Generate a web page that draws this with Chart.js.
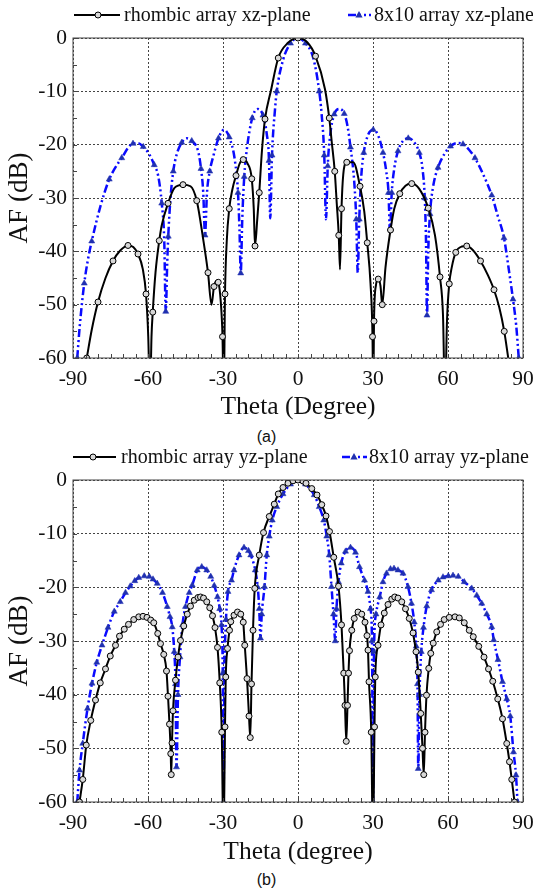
<!DOCTYPE html>
<html>
<head>
<meta charset="utf-8">
<script src="https://cdn.jsdelivr.net/npm/chart.js@4.4.0/dist/chart.umd.min.js"></script>
<style>
  body { margin: 0; background: #fff; width: 533px; height: 891px; position: relative; overflow: hidden; }
  .box { position: absolute; left: 0; width: 533px; }
  .cap { position: absolute; left: 0; width: 533px; text-align: center; font: 16px "Liberation Sans", Arial, sans-serif; color: #111; }
</style>
</head>
<body>
<div class="box" style="top:0;height:425px"><canvas id="chartA"></canvas></div>
<div class="cap" style="top:428px">(a)</div>
<div class="box" style="top:440px;height:430px"><canvas id="chartB"></canvas></div>
<div class="cap" style="top:871px">(b)</div>
<script>
// tick values
const thetaTicks = [-90, -60, -30, 0, 30, 60, 90];
const afTicks = [0, -10, -20, -30, -40, -50, -60];

// (a) xz-plane, [theta, AF dB]
const rhombicXZ = [
  [-84.5,-60],[-82.5,-54.7],[-80,-49.5],[-77,-45],[-74,-41.8],[-71.2,-39.9],[-68,-38.9],[-65.9,-39.2],
  [-64,-40.5],[-62.1,-43.3],[-60.8,-48],[-59.9,-56],[-59.2,-68],[-58.6,-56],[-58.1,-51.4],[-57,-44],
  [-55.5,-38],[-54.5,-35.1],[-52,-31],[-49.4,-28.1],[-46,-27.5],[-43,-27.8],[-40.5,-30.5],[-37.9,-37.8],
  [-36,-44],[-34.6,-50],[-33.6,-46.6],[-32.6,-45.5],[-31.9,-45.8],[-30.9,-49.4],[-30.2,-56],[-29.7,-68],
  [-29.2,-48],[-28.5,-38.1],[-27.5,-32],[-26.3,-28.5],[-24.8,-25.8],[-23.3,-23.5],[-21.9,-22.8],[-20.1,-23.6],
  [-18.5,-26.4],[-17.7,-32],[-17.2,-39],[-16.3,-34],[-15.5,-29],[-14.4,-21],[-13.2,-15.2],[-10.8,-9.8],
  [-7.9,-3.75],[-4,-0.9],[0,0],[3.7,-0.8],[7,-3.4],[10.8,-9.6],[12.5,-15],[13.5,-19.5],
  [14.7,-25],[15.5,-31],[16.3,-37],[16.8,-43.4],[17.4,-32],[18.1,-25.6],[19.5,-23.3],[22.1,-23.3],
  [24.8,-27.8],[26.5,-32.5],[27.7,-38.4],[29,-46],[29.8,-56],[30.1,-68],[30.4,-53.1],[31.2,-46.3],
  [32.1,-45.2],[33,-46.5],[33.7,-50],[35,-43],[37,-36],[38.5,-32],[40.7,-29.2],[43,-27.7],
  [45.5,-27.3],[48.5,-28.3],[52.1,-31.9],[54.8,-37],[56.8,-44.8],[58,-52],[58.8,-68],[59.6,-53],
  [60.5,-46.1],[61.5,-43],[63.1,-40.2],[65.5,-39.1],[67.5,-39],[70,-39.8],[73,-41.8],[76,-44.5],
  [78.4,-47.2],[80.5,-50.5],[82.5,-55],[84.1,-60]
];
const array8x10XZ = [
  [-88.3,-60],[-87.3,-54],[-85.5,-46],[-84,-41.5],[-82.5,-38.1],[-79,-31.5],[-75.5,-26.5],[-72,-23.5],
  [-70.5,-22.5],[-68,-20.6],[-66,-19.8],[-64,-19.7],[-61.9,-20.4],[-59.5,-21.8],[-57.5,-23.8],[-55.9,-25.9],
  [-54.5,-31],[-53.5,-38],[-52.9,-51.3],[-52.3,-42],[-51.9,-37.2],[-51,-30],[-49.9,-25],[-48.5,-21.8],
  [-46.5,-19.6],[-44.5,-18.8],[-42.5,-19.3],[-39.9,-21.3],[-38.8,-24.5],[-37.9,-29],[-37.2,-37],[-36.4,-29],
  [-35.3,-25],[-33.9,-22.2],[-31.8,-18.8],[-29.6,-17.2],[-27.5,-18.6],[-25.2,-23.1],[-24,-29],[-23.4,-36],
  [-22.9,-44.1],[-22.3,-34],[-21.5,-26],[-20.5,-21],[-18.3,-15],[-16.1,-13.3],[-14,-14.5],[-12.5,-18],
  [-11.6,-23],[-11.1,-33.8],[-10.4,-22],[-9.2,-13.4],[-8.5,-10],[-5.9,-4],[-3,-1],[0,0],
  [3,-1],[6.1,-3.75],[8.5,-10],[9.4,-14],[10.5,-22],[11.2,-34],[11.9,-24],[12.8,-18.5],
  [14.5,-14.3],[16.8,-13.3],[18.5,-14.2],[19.8,-16.5],[21,-20.5],[22.5,-27],[23.3,-34],[23.9,-44],
  [24.5,-34],[25.3,-26],[26.3,-21.5],[28,-18.2],[30.1,-17.2],[32,-18.2],[34,-21.5],[35.3,-25],
  [36.2,-29],[36.8,-36.5],[37.5,-29],[38.5,-24.5],[40,-21.2],[42,-19.3],[44.1,-18.8],[46,-19.3],
  [48.5,-21.5],[49.8,-24.5],[50.7,-30],[51.2,-38],[51.6,-52],[52.1,-40],[52.8,-33],[54,-28],
  [56,-24.3],[58.5,-21.8],[61,-20.3],[63.5,-19.7],[66,-19.9],[68.5,-21],[70.8,-22.5],[74,-25.5],
  [77.5,-29.5],[80,-33.5],[82.4,-37.5],[84.5,-44],[86,-49],[87.3,-54],[88.3,-60]
];

// (b) yz-plane
const rhombicYZ = [
  [-87.4,-60],[-86.1,-55.8],[-84.7,-49.4],[-82.9,-44.8],[-81,-41],[-79.1,-37.8],[-77,-35.2],[-75.1,-32.8],
  [-73,-30.8],[-71.4,-29.1],[-69.5,-27.8],[-67.8,-26.9],[-65.7,-26],[-63.7,-25.5],[-62,-25.4],[-60.4,-25.6],
  [-58.9,-26.1],[-57.7,-26.6],[-56.1,-28.6],[-55,-30.5],[-53.7,-32.5],[-52.6,-35.6],[-52,-40.3],[-51.4,-45.5],
  [-50.9,-51],[-50.7,-54.9],[-50.4,-49],[-50,-43],[-49,-37.3],[-48,-33],[-47,-29.9],[-45.7,-27.2],
  [-44.3,-25],[-43,-23.5],[-41.5,-22.4],[-40,-21.9],[-39,-21.8],[-37.8,-22],[-36.5,-22.7],[-35.3,-23.8],
  [-34.2,-25.3],[-33.2,-27.5],[-32.2,-31.2],[-31.3,-37.8],[-30.5,-47],[-29.8,-68],[-29.2,-46],[-28.9,-36.7],
  [-28.2,-31.4],[-27.4,-28],[-26.9,-26.4],[-25.6,-25.2],[-24.2,-24.6],[-22.9,-25],[-21.9,-26.5],[-21.3,-30.8],
  [-20.4,-37],[-19.6,-44],[-19.1,-48],[-18.6,-38],[-18,-28],[-17.3,-20.2],[-15.5,-14],[-13.8,-9.8],
  [-11.5,-6.8],[-9.5,-4.5],[-7.9,-2.6],[-6,-1.4],[-4,-0.6],[-2,-0.15],[0,0],[2,-0.2],
  [3.2,-0.6],[5.5,-1.6],[7.6,-2.8],[9.5,-4.6],[11.2,-6.7],[12.6,-9.6],[14.3,-14.4],[16.2,-19.8],
  [17.4,-27],[18.3,-36],[18.8,-42],[19.3,-48.7],[19.8,-42],[20.2,-36],[20.6,-31.8],[21.5,-28],
  [22.5,-25.8],[24,-24.6],[25.5,-25],[26.8,-26.5],[27.6,-29],[28,-31.7],[28.4,-37.6],[29.3,-47],
  [30,-68],[30.6,-46],[30.9,-36.7],[32,-30.8],[33.2,-27],[34.5,-24.8],[36,-23.2],[37.5,-22.2],
  [38.7,-21.8],[40,-22],[41.5,-22.7],[43,-24],[44.5,-25.8],[46,-28.5],[47.2,-32],[48.1,-35.8],
  [49.1,-43.5],[49.8,-50],[50.3,-54.9],[50.8,-47],[51.4,-40.1],[52.3,-35.1],[53.1,-32.3],[54.1,-30.4],
  [55.5,-28.3],[57,-26.9],[58.5,-26],[60.5,-25.6],[62.8,-25.5],[64.5,-25.7],[66.5,-26.6],[68.5,-28],
  [70.1,-29.2],[72.3,-31],[74.4,-33],[76.2,-35.2],[77.9,-37.5],[79.9,-40.8],[81.8,-44.5],[83.5,-49.1],
  [84.6,-52.5],[85.5,-55.8],[86.6,-60]
];
const array8x10YZ = [
  [-88.3,-60],[-87.4,-54.1],[-86.1,-49.1],[-84.2,-42.6],[-82.4,-37.9],[-80.5,-34],[-78.4,-30.8],[-76,-27.5],
  [-73.5,-24.5],[-71.1,-22.7],[-69,-21],[-67.1,-19.8],[-65.3,-18.8],[-63.7,-18.2],[-61.5,-17.9],[-59.5,-18],
  [-58,-18.5],[-56.3,-19.3],[-54.2,-21],[-52.3,-23.6],[-51.2,-25.5],[-50.3,-27.4],[-49.5,-32],[-49,-38],
  [-48.6,-53.5],[-48,-40],[-47.2,-33],[-46.2,-27],[-45,-23.6],[-43.5,-21],[-42.3,-19.6],[-40.3,-16.8],
  [-38.5,-16.2],[-36.5,-16.8],[-34.9,-18],[-33.5,-19.7],[-32.2,-21.8],[-31.3,-24],[-30.6,-27],[-30.1,-36],
  [-29.8,-60],[-29.4,-36],[-28.8,-26],[-28,-20.8],[-26.6,-18.7],[-25.6,-16.8],[-23.6,-14],[-21.6,-12.6],
  [-19.8,-13.2],[-18.9,-14],[-17.1,-16.8],[-16.1,-20],[-15.5,-24],[-15,-29.5],[-14.5,-25],[-13.4,-19.9],
  [-12.5,-14],[-11.5,-10.5],[-10.3,-7.5],[-8.5,-5],[-6,-2.6],[-3,-0.8],[0,0],[3,-0.8],
  [6.5,-2.8],[8.5,-5],[10.3,-7.5],[11.5,-10.5],[12.5,-14],[13.4,-19.9],[14.2,-25],[14.9,-30],
  [15.4,-24],[16.2,-19],[17.3,-15.5],[19,-13.3],[21,-12.6],[23,-13.5],[24.6,-16.2],[26.6,-18.7],
  [28,-20.8],[29,-24],[29.6,-30],[30,-60],[30.4,-32],[31.2,-25],[32.7,-21.8],[34,-19],
  [35.4,-17.4],[37,-16.6],[38.4,-16.5],[40,-16.8],[42,-17.4],[44,-19.9],[45.4,-23],[46.5,-26.5],
  [47.3,-31],[47.8,-38],[48.1,-53.8],[48.6,-40],[49.3,-32],[50.2,-27.5],[51.5,-23.5],[53.4,-20.5],
  [56.1,-18.7],[58,-18.1],[60.1,-17.9],[62,-17.8],[64.1,-18],[66.5,-19],[69.5,-20.2],[71.5,-21.5],
  [73.5,-23],[75.5,-25],[77.5,-27.4],[78.3,-29.8],[80,-33.5],[81.8,-37.6],[83.5,-40.8],[84.9,-44],
  [86.2,-50.7],[87.2,-55],[87.8,-60]
];

const SERIF = '"Liberation Serif", "Times New Roman", serif';
const BLUE = '#0a0aff';
const BLUE_DASH = [8, 3, 2, 3, 2, 3];

function toXY(pairs) {
  return pairs.map(p => ({ x: p[0], y: p[1] }));
}

function drawMarker(ctx, kind, x, y) {
  ctx.save();
  ctx.setLineDash([]);
  if (kind === 'circle') {
    ctx.beginPath();
    ctx.arc(x, y, 3, 0, Math.PI * 2);
    ctx.fillStyle = '#d8d8d8';
    ctx.fill();
    ctx.lineWidth = 1;
    ctx.strokeStyle = '#000';
    ctx.stroke();
  } else {
    ctx.beginPath();
    ctx.moveTo(x, y - 4);
    ctx.lineTo(x + 3.6, y + 2.6);
    ctx.lineTo(x - 3.6, y + 2.6);
    ctx.closePath();
    ctx.fillStyle = '#2030b0';
    ctx.fill();
  }
  ctx.restore();
}

// legend drawn as line sample + marker + text, like the origin plot
function sampleLegend(items, y) {
  return {
    id: 'sampleLegend',
    afterDraw(chart) {
      const ctx = chart.ctx;
      ctx.save();
      ctx.font = '20px ' + SERIF;
      ctx.textBaseline = 'middle';
      ctx.fillStyle = '#111';
      items.forEach(it => {
        ctx.beginPath();
        ctx.lineWidth = it.kind === 'circle' ? 2 : 2.5;
        ctx.strokeStyle = it.kind === 'circle' ? '#000' : BLUE;
        ctx.setLineDash(it.kind === 'circle' ? [] : BLUE_DASH);
        ctx.moveTo(it.x0, y);
        ctx.lineTo(it.x1, y);
        ctx.stroke();
        drawMarker(ctx, it.kind, it.m, y);
        ctx.fillText(it.text, it.tx, y + 1);
      });
      ctx.restore();
    }
  };
}

// box round the plot and small inward ticks every 5
const framePlugin = {
  id: 'frame',
  afterDraw(chart) {
    const { ctx, chartArea: a, scales: { x, y } } = chart;
    ctx.save();
    ctx.strokeStyle = '#444';
    ctx.lineWidth = 1;
    ctx.setLineDash([]);
    ctx.strokeRect(a.left, a.top, a.right - a.left, a.bottom - a.top);
    ctx.beginPath();
    for (let t = -90; t <= 90; t += 5) {
      const px = Math.round(x.getPixelForValue(t)) + 0.5;
      ctx.moveTo(px, a.bottom);
      ctx.lineTo(px, a.bottom - 4);
    }
    for (let v = -60; v <= 0; v += 5) {
      const py = Math.round(y.getPixelForValue(v)) + 0.5;
      ctx.moveTo(a.left, py);
      ctx.lineTo(a.left + 4, py);
    }
    ctx.stroke();
    ctx.restore();
  }
};

function makeChart(id, black, blue, names, xTitle, legendItems, legendY, padTop, axisH, steps) {
  return new Chart(document.getElementById(id), {
    type: 'line',
    data: {
      datasets: [
        {
          label: names[0],
          data: toXY(black),
          borderColor: '#000',
          borderWidth: 2,
          cubicInterpolationMode: 'monotone',
          pointStyle: 'circle',
          pointRadius: c => (c.dataIndex % steps[0] === 0 ? 3 : 0),
          pointBackgroundColor: '#d8d8d8',
          pointBorderColor: '#000',
          pointBorderWidth: 1
        },
        {
          label: names[1],
          data: toXY(blue),
          borderColor: BLUE,
          borderWidth: 2.5,
          borderDash: BLUE_DASH,
          cubicInterpolationMode: 'monotone',
          pointStyle: 'triangle',
          pointRadius: c => (c.dataIndex % steps[1] === 0 ? 3.5 : 0),
          pointBackgroundColor: '#2030b0',
          pointBorderColor: '#2030b0',
          pointBorderWidth: 0.5
        }
      ]
    },
    options: {
      responsive: true,
      maintainAspectRatio: false,
      animation: false,
      devicePixelRatio: 1,
      layout: { padding: { top: padTop, right: 10, left: 0, bottom: 0 } },
      scales: {
        x: {
          type: 'linear',
          min: -90,
          max: 90,
          afterBuildTicks: s => { s.ticks = thetaTicks.map(v => ({ value: v })); },
          afterFit: s => { s.height = axisH; s.paddingLeft = 0; s.paddingRight = 0; },
          ticks: { color: '#111', font: { family: SERIF, size: 21.5 }, padding: 8, maxRotation: 0, autoSkip: false },
          grid: { color: '#444', lineWidth: 1, drawTicks: false },
          border: { display: false, dash: [2, 2] },
          title: { display: true, text: xTitle, color: '#111', font: { family: SERIF, size: 25.5 }, padding: { top: 0, bottom: 2 } }
        },
        y: {
          type: 'linear',
          min: -60,
          max: 0,
          afterBuildTicks: s => { s.ticks = afTicks.map(v => ({ value: v })); },
          afterFit: s => { s.width = 73; s.paddingTop = 0; s.paddingBottom = 0; },
          ticks: { color: '#111', font: { family: SERIF, size: 21.5 }, padding: 6 },
          grid: { color: '#444', lineWidth: 1, drawTicks: false },
          border: { display: false, dash: [2, 2] },
          title: { display: true, text: 'AF (dB)', color: '#111', font: { family: SERIF, size: 27 }, padding: { top: 4, bottom: 0 } }
        }
      },
      plugins: {
        legend: { display: false },
        tooltip: { enabled: false }
      }
    },
    plugins: [framePlugin, sampleLegend(legendItems, legendY)]
  });
}

makeChart('chartA', rhombicXZ, array8x10XZ,
  ['rhombic array xz-plane', '8x10 array xz-plane'], 'Theta (Degree)',
  [
    { kind: 'circle', x0: 74, x1: 120, m: 98, tx: 124, text: 'rhombic array xz-plane' },
    { kind: 'triangle', x0: 348, x1: 371, m: 359, tx: 374, text: '8x10 array xz-plane' }
  ], 15, 38, 67, [2, 2]);

makeChart('chartB', rhombicYZ, array8x10YZ,
  ['rhombic array yz-plane', '8x10 array yz-plane'], 'Theta (degree)',
  [
    { kind: 'circle', x0: 73, x1: 116, m: 93, tx: 121, text: 'rhombic array yz-plane' },
    { kind: 'triangle', x0: 342, x1: 367, m: 354, tx: 369, text: '8x10 array yz-plane' }
  ], 17, 40, 68, [1, 1]);
</script>
</body>
</html>
